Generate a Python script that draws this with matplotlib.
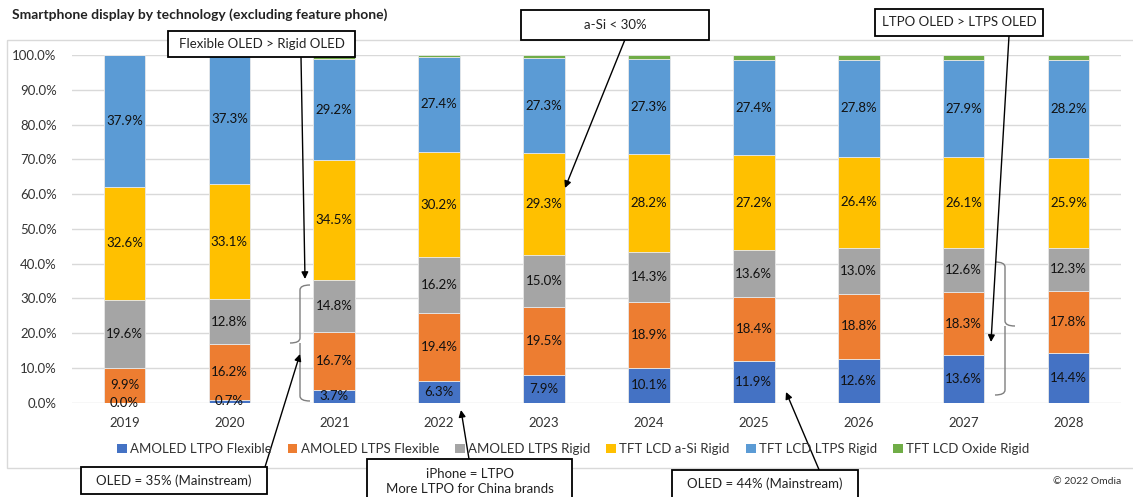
import numpy as np
import matplotlib.pyplot as plt
from matplotlib.patches import Patch, Rectangle
from matplotlib.path import Path
from matplotlib.patches import PathPatch

plt.rcParams['font.family'] = ['Lato', 'DejaVu Sans']

# data (share in %)
years = ['2019', '2020', '2021', '2022', '2023', '2024', '2025', '2026', '2027', '2028']
ltpo_flex = [0.0, 0.7, 3.7, 6.3, 7.9, 10.1, 11.9, 12.6, 13.6, 14.4]
ltps_flex = [9.9, 16.2, 16.7, 19.4, 19.5, 18.9, 18.4, 18.8, 18.3, 17.8]
ltps_rigid = [19.6, 12.8, 14.8, 16.2, 15.0, 14.3, 13.6, 13.0, 12.6, 12.3]
lcd_asi = [32.6, 33.1, 34.5, 30.2, 29.3, 28.2, 27.2, 26.4, 26.1, 25.9]
lcd_ltps = [37.9, 37.3, 29.2, 27.4, 27.3, 27.3, 27.4, 27.8, 27.9, 28.2]
lcd_oxide = [0.0, 0.0, 1.1, 0.5, 1.0, 1.2, 1.5, 1.4, 1.5, 1.4]

series = [
    ('AMOLED LTPO Flexible', ltpo_flex, '#4472C4'),
    ('AMOLED LTPS Flexible', ltps_flex, '#ED7D31'),
    ('AMOLED LTPS Rigid', ltps_rigid, '#A5A5A5'),
    ('TFT LCD a-Si Rigid', lcd_asi, '#FFC000'),
    ('TFT LCD LTPS Rigid', lcd_ltps, '#5B9BD5'),
    ('TFT LCD Oxide Rigid', lcd_oxide, '#70AD47'),
]

W, H = 1133, 497
fig = plt.figure(figsize=(W / 100, H / 100), dpi=100)

# annotation layer in pixel coords (y down)
ov = fig.add_axes([0, 0, 1, 1], zorder=5)
ov.set_xlim(0, W)
ov.set_ylim(H, 0)
ov.axis('off')
ov.patch.set_alpha(0)

# outer chart border
bg = fig.add_axes([0, 0, 1, 1], zorder=-1)
bg.set_xlim(0, W)
bg.set_ylim(H, 0)
bg.axis('off')
bg.add_patch(Rectangle((7, 40), 1140, 428, fill=False, ec='#d9d9d9', lw=1))

ax = fig.add_axes([72 / W, 1 - 402.7 / H, 1049 / W, 347.7 / H])
x = np.arange(len(years))
bottom = np.zeros(len(years))
handles = []
for name, vals, col in series:
    vals = np.array(vals) / 100
    ax.bar(x, vals, 0.396, bottom=bottom, color=col, edgecolor='#e8e8e8', linewidth=0.6, zorder=3)
    if name != 'TFT LCD Oxide Rigid':
        for xi, b, v in zip(x, bottom, vals):
            ax.text(xi, b + v / 2, f'{v * 100:.1f}%', ha='center', va='center', fontsize=9.5, color='#111111', zorder=4)
    bottom = bottom + vals
    handles.append(Patch(facecolor=col, label=name))

ax.set_xlim(-0.5, 9.5)
ax.set_ylim(0, 1)
ax.set_yticks(np.arange(0, 1.01, 0.1))
ax.set_yticklabels([f'{v * 100:.1f}%' for v in np.arange(0, 1.01, 0.1)])
ax.set_xticks(x)
ax.set_xticklabels(years)
ax.tick_params(length=0, labelsize=9.5, colors='#333333')
ax.tick_params(axis='y', pad=11)
ax.tick_params(axis='x', pad=10)
ax.grid(axis='y', color='#d9d9d9', lw=1, zorder=0)
for s in ax.spines.values():
    s.set_visible(False)

fig.legend(handles=handles, ncol=6, loc='center', bbox_to_anchor=(573 / W, 1 - 449 / H),
           frameon=False, fontsize=9.5, handlelength=0.75, handleheight=0.75,
           handletextpad=0.25, columnspacing=1.2, labelcolor='#333333')

fig.text(12 / W, 1 - 15 / H, 'Smartphone display by technology (excluding feature phone)',
         fontsize=10, fontweight='bold', va='center', ha='left', color='#222222')
fig.text(1121 / W, 1 - 481 / H, '\u00a9 2022 Omdia', fontsize=7.5, ha='right', va='center', color='#333333')


def box(x0, y0, x1, y1, txt):
    ov.add_patch(Rectangle((x0, y0), x1 - x0, y1 - y0, fc='white', ec='black', lw=1.3, zorder=6))
    ov.text((x0 + x1) / 2, (y0 + y1) / 2, txt, ha='center', va='center', fontsize=9.5,
            color='#222222', zorder=7, linespacing=1.25)


def arrow(x0, y0, x1, y1):
    ov.annotate('', xy=(x1, y1), xytext=(x0, y0),
                arrowprops=dict(arrowstyle='-|>', color='black', lw=1, mutation_scale=10,
                                shrinkA=0, shrinkB=0), zorder=5)


def brace(xe, xs, xt, yt, ym, yb, r=5):
    verts = [(xe, yt), (xs, yt), (xs, yt + r), (xs, ym - r), (xs, ym), (xt, ym),
             (xs, ym), (xs, ym + r), (xs, yb - r), (xs, yb), (xe, yb)]
    codes = [Path.MOVETO, Path.CURVE3, Path.CURVE3, Path.LINETO, Path.CURVE3, Path.CURVE3,
             Path.MOVETO, Path.CURVE3, Path.LINETO, Path.CURVE3, Path.CURVE3]
    ov.add_patch(PathPatch(Path(verts, codes), fill=False, ec='#7f7f7f', lw=1, zorder=5))


brace(310, 300, 290, 285, 343, 401)
brace(995, 1005, 1015, 262, 326, 395)

arrow(301, 57, 305, 279)
arrow(265, 467, 300, 354)
arrow(625, 39.5, 565, 188)
arrow(469, 459, 461, 410)
arrow(820, 472, 786, 392)
arrow(1009, 36, 991, 342)

box(168, 31, 355, 57, 'Flexible OLED > Rigid OLED')
box(521, 10, 709, 39.5, 'a-Si < 30%')
box(875, 9, 1043, 36, 'LTPO OLED > LTPS OLED')
box(81, 467, 267, 494, 'OLED = 35% (Mainstream)')
box(367, 459, 572, 504, 'iPhone = LTPO\nMore LTPO for China brands')
box(672, 470, 858, 498, 'OLED = 44% (Mainstream)')

fig.savefig('out.png', dpi=100)
